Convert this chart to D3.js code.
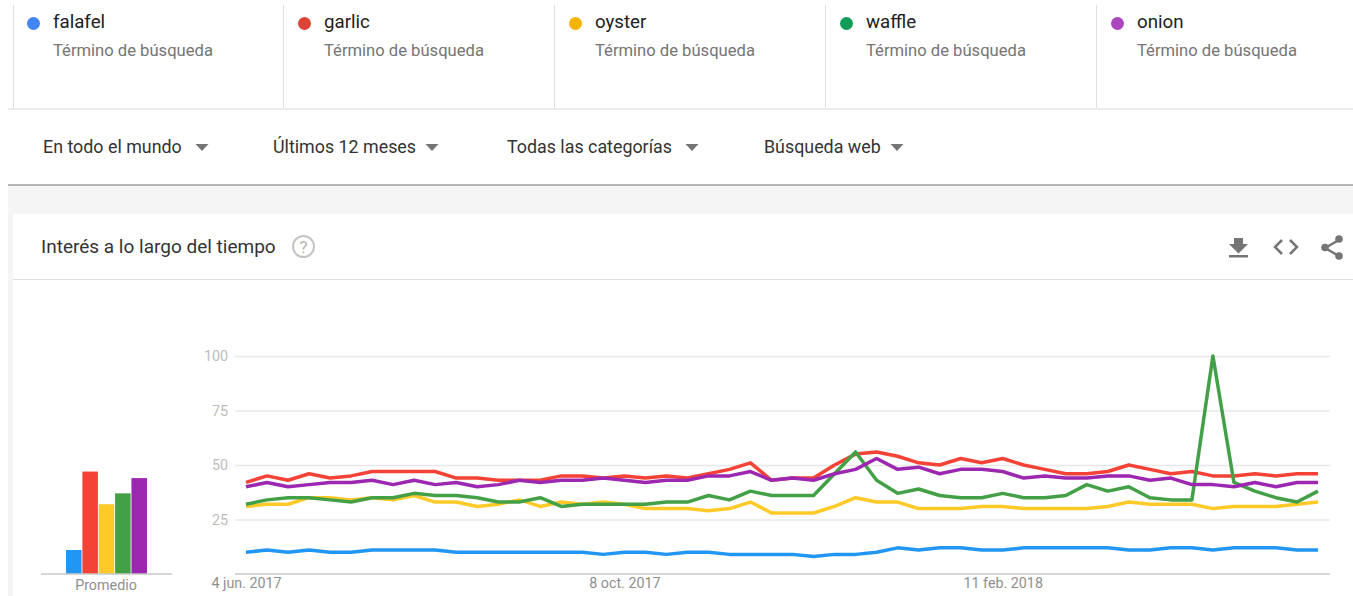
<!DOCTYPE html>
<html>
<head>
<meta charset="utf-8">
<script src="https://cdn.jsdelivr.net/npm/d3@7"></script>
<style>
  html, body { margin: 0; padding: 0; background: #fff; overflow: hidden; }
  svg { display: block; font-family: Roboto, sans-serif; }
  .axis .domain { display: none; }
  .axis line { stroke: #e8e8e8; stroke-width: 1.5; }
  .axis text { font-family: Roboto, sans-serif; font-size: 14.3px; }
</style>
</head>
<body>
<svg id="chart" width="1353" height="596"></svg>
<script>
// search terms and colours
const terms = ["falafel", "garlic", "oyster", "waffle", "onion"];
const dotColors = ["#4285f4", "#db4437", "#f4b400", "#0f9d58", "#ab47bc"];
const lineColors = ["#2196f3", "#f44336", "#ffca28", "#43a047", "#9c27b0"];

// weekly values
const falafel = [10,11,10,11,10,10,11,11,11,11,10,10,10,10,10,10,10,9,10,10,9,10,10,9,9,9,9,8,9,9,10,12,11,12,12,11,11,12,12,12,12,12,11,11,12,12,11,12,12,12,11,11];
const garlic = [42,45,43,46,44,45,47,47,47,47,44,44,43,43,43,45,45,44,45,44,45,44,46,48,51,43,44,44,50,55,56,54,51,50,53,51,53,50,48,46,46,47,50,48,46,47,45,45,46,45,46,46];
const oyster = [31,32,32,35,35,34,35,34,36,33,33,31,32,34,31,33,32,33,32,30,30,30,29,30,33,28,28,28,31,35,33,33,30,30,30,31,31,30,30,30,30,31,33,32,32,32,30,31,31,31,32,33];
const waffle = [32,34,35,35,34,33,35,35,37,36,36,35,33,33,35,31,32,32,32,32,33,33,36,34,38,36,36,36,46,56,43,37,39,36,35,35,37,35,35,36,41,38,40,35,34,34,100,42,38,35,33,38];
const onion = [40,42,40,41,42,42,43,41,43,41,42,40,41,43,42,43,43,44,43,42,43,43,45,45,47,43,44,43,46,48,53,48,49,46,48,48,47,44,45,44,44,45,45,43,44,41,41,40,42,40,42,42];
const seriesValues = [falafel, garlic, oyster, waffle, onion];

const averages = [11, 47, 32, 37, 44];
const yTicks = [25, 50, 75, 100];
const dateTicks = [0, 18, 36];
const dateLabels = ["4 jun. 2017", "8 oct. 2017", "11 feb. 2018"];
const filters = ["En todo el mundo", "Últimos 12 meses", "Todas las categorías", "Búsqueda web"];
const filterX = [43, 273, 507, 764];
const filterArrowX = [202, 432, 692, 897];

const svg = d3.select("#chart");

// page background
svg.append("rect").attr("x", 8).attr("y", 186).attr("width", 1345).attr("height", 410).attr("fill", "#f5f5f5");
svg.append("rect").attr("x", 8).attr("y", 184).attr("width", 1345).attr("height", 2).attr("fill", "#b5b5b5");
svg.append("rect").attr("x", 13).attr("y", 214).attr("width", 1340).attr("height", 382).attr("fill", "#fff");

// term cards on top
const cardW = 271;
const cards = svg.selectAll(".card").data(terms).enter().append("g")
    .attr("class", "card")
    .attr("transform", (d, i) => `translate(${13 + i * cardW},0)`);
cards.append("line")
    .attr("x1", (d, i) => i ? -0.5 : 0.5).attr("x2", (d, i) => i ? -0.5 : 0.5).attr("y1", 5).attr("y2", 109)
    .attr("stroke", "#e0e0e0");
cards.append("circle")
    .attr("cx", 20.5).attr("cy", 23.5).attr("r", 6.5)
    .attr("fill", (d, i) => dotColors[i]);
cards.append("text")
    .attr("x", 40).attr("y", 28)
    .attr("font-size", 18.7).attr("fill", "#212121")
    .text(d => d);
cards.append("text")
    .attr("x", 40).attr("y", 55.5)
    .attr("font-size", 16.6).attr("fill", "#757575")
    .text("Término de búsqueda");
svg.append("rect").attr("x", 8).attr("y", 108).attr("width", 1345).attr("height", 2).attr("fill", "#ececec");

// filter row
filters.forEach((f, i) => {
    svg.append("text")
        .attr("x", filterX[i]).attr("y", 153)
        .attr("font-size", 17.85).attr("fill", "#333")
        .text(f);
    svg.append("path")
        .attr("d", d3.line()([[filterArrowX[i] - 6.5, 144], [filterArrowX[i] + 6.5, 144], [filterArrowX[i], 151]]))
        .attr("fill", "#757575");
});

// card header
svg.append("text")
    .attr("x", 41).attr("y", 253)
    .attr("font-size", 19).attr("fill", "#333")
    .text("Interés a lo largo del tiempo");
svg.append("circle")
    .attr("cx", 303.5).attr("cy", 246.5).attr("r", 10.5)
    .attr("fill", "none").attr("stroke", "#c4c4c4").attr("stroke-width", 2);
svg.append("text")
    .attr("x", 303.5).attr("y", 252.5)
    .attr("text-anchor", "middle").attr("font-size", 17).attr("fill", "#b5b5b5")
    .text("?");
svg.append("rect").attr("x", 13).attr("y", 279).attr("width", 1340).attr("height", 1).attr("fill", "#e0e0e0");

// download, embed, share icons
svg.append("path")
    .attr("d", "M1234 238h9v6h5l-9.5 9.5L1229 244h5zM1229 255h19v2.5h-19z")
    .attr("fill", "#757575");
svg.append("path")
    .attr("d", "M1282 240l-7 7 7 7M1290 240l7 7-7 7")
    .attr("fill", "none").attr("stroke", "#757575").attr("stroke-width", 2.5);
svg.append("path")
    .attr("d", "M1339 240l-14 8 14 8")
    .attr("fill", "none").attr("stroke", "#757575").attr("stroke-width", 2.5);
svg.selectAll(".share-dot").data([[1339, 239], [1325, 247.5], [1339, 256]]).enter().append("circle")
    .attr("class", "share-dot")
    .attr("cx", d => d[0]).attr("cy", d => d[1]).attr("r", 3.8)
    .attr("fill", "#757575");

// scales shared by both charts
const y = d3.scaleLinear().domain([0, 100]).range([574, 356]);
const x = d3.scaleLinear().domain([0, 51]).range([246, 1318]);

// y axis with full width gridlines
svg.append("g")
    .attr("class", "axis")
    .attr("transform", "translate(235,0)")
    .call(d3.axisLeft(y).tickValues(yTicks).tickSize(-1095).tickPadding(7))
    .call(g => g.selectAll("text").attr("fill", "#bdbdbd"));

// x axis
svg.append("g")
    .attr("class", "axis")
    .attr("transform", "translate(0,574)")
    .call(d3.axisBottom(x).tickValues(dateTicks).tickSize(0).tickPadding(4)
        .tickFormat((d, i) => dateLabels[i]))
    .call(g => g.selectAll("text").attr("fill", "#8f8f8f"));
svg.append("line")
    .attr("x1", 235).attr("x2", 1330).attr("y1", 574).attr("y2", 574)
    .attr("stroke", "#c8c8c8").attr("stroke-width", 1.5);

const line = d3.line().x((d, i) => x(i)).y(d => y(d));
svg.selectAll(".line").data(seriesValues).enter().append("path")
    .attr("class", "line")
    .attr("d", line)
    .attr("fill", "none")
    .attr("stroke", (d, i) => lineColors[i])
    .attr("stroke-width", 3.5)
    .attr("stroke-linejoin", "round");

// average bars
const xBar = d3.scaleBand().domain(terms).range([66, 147]).paddingInner(0.05);
svg.selectAll(".bar").data(averages).enter().append("rect")
    .attr("class", "bar")
    .attr("x", (d, i) => xBar(terms[i]))
    .attr("y", d => y(d))
    .attr("width", xBar.bandwidth())
    .attr("height", d => y(0) - y(d))
    .attr("fill", (d, i) => lineColors[i]);
svg.append("line")
    .attr("x1", 41).attr("x2", 172).attr("y1", 574).attr("y2", 574)
    .attr("stroke", "#c8c8c8").attr("stroke-width", 1.5);
svg.append("text")
    .attr("x", 106).attr("y", 590)
    .attr("text-anchor", "middle").attr("font-size", 14.3).attr("fill", "#8f8f8f")
    .text("Promedio");
</script>
</body>
</html>
